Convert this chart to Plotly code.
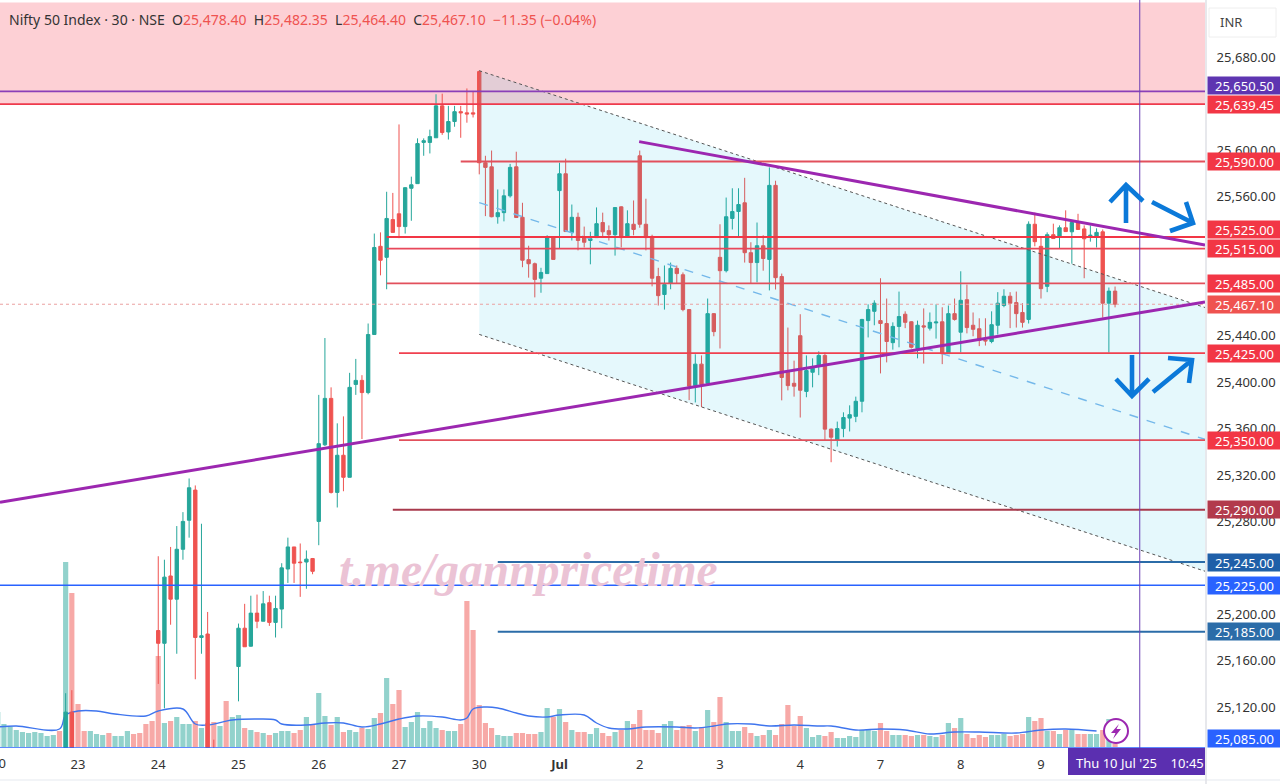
import plotly.graph_objects as go

# ---------- price candles (bar 0 = 23 Jun 09:15, 13 bars per session) ----------
bar_index = [-2, -1] + list(range(13, 23)) + list(range(26, 169))
opens = [
    25060, 25115.7,
    25186, 25175, 25233, 25213, 25256, 25281, 25307, 25180, 25183, 25070,
    25155, 25188, 25172.5, 25201, 25194, 25210, 25193, 25204.5, 25239, 25258,
    25245, 25245, 25248, 25280, 25346, 25386, 25305, 25337, 25318, 25398,
    25401.5, 25391, 25441, 25517, 25507.5, 25540, 25545, 25534, 25567, 25571,
    25606.5, 25606.5, 25610.5, 25638, 25615.5, 25624.5, 25633, 25632, 25632, 25667.5,
    25589, 25585.5, 25542.5, 25546, 25560.5, 25585.5, 25542, 25505.5, 25502, 25489.5,
    25493.5, 25524.5, 25565, 25579.5, 25529, 25542, 25524.5, 25522, 25524.5, 25537.5,
    25530.5, 25527, 25551, 25525.5, 25536, 25595, 25536, 25525.5, 25491, 25475.5,
    25485, 25498, 25492.5, 25462.5, 25397, 25415.5, 25399, 25459, 25507.5, 25496,
    25541, 25547, 25554.5, 25511.5, 25503, 25517.5, 25505.7, 25569.5, 25491, 25408.5,
    25399, 25440, 25392, 25408.5, 25414.5, 25423, 25359.5, 25350, 25360, 25369,
    25370.5, 25383.5, 25453, 25461, 25453, 25450.5, 25434, 25448, 25458.5, 25452,
    25429, 25448.5, 25446.5, 25451, 25452, 25424.5, 25459, 25443, 25471, 25449,
    25446, 25436, 25435, 25449, 25466, 25474, 25468.5, 25460, 25454, 25536,
    25517, 25482.5, 25527, 25525.5, 25533, 25529.5, 25537, 25532, 25526, 25525.5,
    25529.5, 25468, 25478.4,
]
highs = [
    25132, 25134.6,
    25250, 25247, 25258, 25276, 25288, 25317, 25311, 25278, 25202, 25092,
    25192, 25209, 25216, 25217, 25220, 25216, 25216, 25244, 25266, 25258,
    25261, 25255, 25248.5, 25389, 25438, 25395.5, 25364.5, 25370.5, 25408, 25420,
    25406, 25450.5, 25528, 25529, 25564, 25563, 25622, 25568, 25577, 25610,
    25610, 25617.5, 25648, 25648.5, 25638, 25638, 25638, 25653, 25650, 25668.5,
    25595, 25599.5, 25566, 25566, 25588, 25598.5, 25554.5, 25517.5, 25503, 25498.5,
    25526.5, 25525, 25589, 25592.5, 25553, 25546, 25534, 25529.5, 25550.5, 25546,
    25535, 25550.5, 25551.5, 25548, 25556.5, 25599.5, 25558, 25527, 25498.5, 25500.5,
    25503, 25500.5, 25494.5, 25463, 25424, 25423, 25472, 25459.5, 25536, 25559,
    25567, 25567, 25576, 25520.5, 25537.5, 25526.5, 25585, 25573.5, 25493.5, 25447,
    25418.5, 25458.5, 25423, 25420.5, 25426.5, 25425.5, 25360, 25366, 25374, 25380,
    25387.5, 25454.5, 25467, 25470.5, 25489.5, 25472, 25451.5, 25478, 25461, 25452.5,
    25453, 25463.5, 25460, 25467, 25464.5, 25466, 25472, 25495.5, 25484, 25460,
    25455, 25455, 25461, 25477.5, 25480, 25477.5, 25478, 25468, 25538.5, 25546,
    25525.5, 25529, 25536.5, 25535, 25548, 25539, 25545, 25535, 25535, 25532.5,
    25531.5, 25481.5, 25482.35,
]
lows = [
    25060, 25055,
    25140, 25119, 25191, 25166, 25247, 25266, 25144, 25166, 25060, 25050,
    25125, 25172, 25172, 25188, 25194, 25190, 25180, 25188, 25227, 25227,
    25215, 25222, 25234.5, 25259.5, 25345, 25304, 25292, 25306, 25318, 25389,
    25351, 25389.5, 25441, 25492, 25480, 25529, 25524, 25528, 25539, 25571,
    25595, 25597, 25610.5, 25613, 25609, 25620, 25610.5, 25623.5, 25628, 25579,
    25543, 25542, 25536.5, 25538.5, 25559, 25541.5, 25499, 25490, 25473, 25477,
    25493.5, 25505.5, 25515, 25529.5, 25522, 25513.5, 25516, 25501.5, 25524.5, 25524.5,
    25522, 25509, 25516, 25525.5, 25526.5, 25533, 25513.5, 25482.5, 25466, 25462.5,
    25480, 25485, 25461, 25384.5, 25382.5, 25378.5, 25399, 25439.5, 25429, 25494.5,
    25531.5, 25525.5, 25503, 25485, 25486, 25496, 25479, 25479.8, 25384.3, 25392.9,
    25387.5, 25369.5, 25387, 25395.5, 25406, 25350, 25331, 25344.5, 25352.5, 25357.5,
    25365.5, 25374, 25438.5, 25449, 25407.5, 25417, 25428, 25430, 25446.5, 25429,
    25420.5, 25416, 25444.5, 25437.5, 25415.5, 25424.5, 25453, 25425.5, 25442, 25439.5,
    25431, 25431.5, 25433.5, 25441, 25464.5, 25446.5, 25447, 25447, 25450.5, 25517,
    25472, 25477.5, 25523.5, 25515, 25529.5, 25502, 25531.3, 25489.5, 25521, 25516,
    25455.5, 25425.5, 25464.4,
]
closes = [
    25115.7, 25060,
    25175, 25232, 25213, 25256, 25280, 25309, 25180, 25181.5, 25070, 25060,
    25188, 25172, 25201, 25194, 25209, 25193, 25205, 25240, 25258, 25244,
    25244.5, 25247.5, 25237, 25347, 25386, 25305, 25337, 25318, 25395.5, 25401.5,
    25391, 25441, 25516, 25505, 25541, 25529, 25534, 25567.5, 25570, 25605.5,
    25608, 25611.5, 25638, 25615, 25624.5, 25633, 25632, 25631, 25631, 25589,
    25585, 25542.5, 25546, 25560.5, 25585, 25541.8, 25505, 25502, 25488.5, 25494.5,
    25524.5, 25505.7, 25579.5, 25529.7, 25542, 25522, 25520.5, 25523.5, 25536.5, 25529.5,
    25527, 25550.4, 25524.5, 25536.5, 25531.5, 25536, 25524.5, 25489.5, 25474.5, 25484,
    25498, 25493.5, 25462.5, 25396.5, 25415.5, 25398, 25459, 25443.5, 25496, 25542.5,
    25547, 25553, 25511.5, 25503, 25517.5, 25506.5, 25569.5, 25490, 25404, 25397,
    25396.5, 25393, 25410, 25412, 25423, 25359.5, 25352.5, 25360, 25369.5, 25372,
    25383.5, 25454, 25462.5, 25468, 25450.5, 25435, 25448, 25456.5, 25451.5, 25430,
    25449, 25447.5, 25451.5, 25451.8, 25424.5, 25459, 25454, 25470.5, 25447, 25445.5,
    25436, 25435.5, 25449.5, 25468, 25474, 25468, 25459, 25451.5, 25536, 25521,
    25480.5, 25527, 25523.7, 25533, 25529.7, 25537.5, 25531.5, 25523.5, 25526.5, 25529,
    25468, 25478.4, 25467.1,
]
assert len(bar_index) == len(opens) == len(highs) == len(lows) == len(closes)

# ---------- volume pane (bars -13 .. 168) ----------
volume = [
    35, 23, 20, 17, 15, 14, 15, 14, 11, 12, 16, 185, 154,
    43, 16, 16, 13, 12, 14, 11, 11, 16, 13, 14, 23, 26,
    91, 24, 26, 30, 23, 23, 26, 19, 24, 25, 21, 46, 30,
    32, 19, 17, 15, 14, 12, 14, 16, 16, 14, 17, 30, 22,
    54, 31, 22, 30, 15, 17, 15, 19, 18, 29, 34, 69, 43,
    57, 20, 25, 35, 19, 26, 19, 17, 16, 16, 23, 146, 117,
    42, 24, 19, 12, 11, 11, 14, 14, 13, 13, 15, 39, 30,
    38, 25, 17, 15, 15, 13, 19, 14, 11, 15, 17, 26, 23,
    37, 17, 17, 14, 23, 26, 17, 21, 22, 16, 20, 37, 25,
    50, 25, 16, 16, 20, 14, 11, 12, 17, 12, 23, 42, 21,
    31, 19, 10, 12, 11, 15, 9, 9, 11, 10, 17, 18, 16,
    24, 16, 12, 12, 12, 11, 12, 12, 11, 10, 12, 24, 19,
    29, 13, 9, 12, 10, 12, 12, 13, 11, 12, 13, 30, 26,
    29, 16, 16, 13, 17, 17, 13, 13, 13, 13, 17, 28, 3,
]
volume_dir = (
    "ggggggggggrgr"
    "rrgggrgggrrrr"
    "rgrgggrgrrgrg"
    "grgrgrgggrrgr"
    "ggrgrggrggrgr"
    "rggggggrggrrr"
    "rrrgggrrrrggr"
    "grgrrggrrgrgr"
    "rrrrggrrrgrgr"
    "rgggrrgrgrrrr"
    "rgggrrggggggg"
    "rrggrrgrggrgr"
    "grrrrgggrrrgr"
    "rgrgrgrrggrgr"
)
volume_index = list(range(-13, 169))
assert len(volume) == len(volume_dir) == len(volume_index)

ma_index = [-13, -10, -3, -2, 0, 3, 6, 11, 13, 17, 19, 21, 25, 29, 32, 33, 37, 40, 43, 46, 49,
            52, 55, 59, 62, 63, 64, 66, 68, 71, 73, 76, 78, 82, 84, 86, 89, 92, 97, 100, 103,
            105, 109, 112, 116, 120, 122, 126, 130, 134, 138, 142, 146, 152, 156, 160, 165]
ma_values = [20, 21, 18, 32, 36, 36, 33, 31, 36, 38, 23, 22, 27, 28, 27, 23, 22, 24, 24, 20, 23,
             28, 31, 30, 27, 29, 38, 40, 39, 34, 31, 30, 32, 32, 24, 19, 18, 20, 20, 19, 21,
             23, 23, 21, 22, 21, 21, 17, 18, 17, 13, 15, 15, 14, 17, 18, 16]

# ---------- drawings ----------
level_prices = [25650.5, 25639.45, 25590, 25525, 25515, 25485, 25425, 25350, 25290, 25245, 25225, 25185, 25085]
level_starts = [-13, -13, 62, 50, 50, 50, 52, 52, 51, 68, -13, 68, -13]
level_colors = ["#8a3fb8", "#ee3a4c", "#e2505c", "#f23645", "#e8475a", "#e2505c", "#f0404f", "#e2505c",
                "#a83a4c", "#2b6ca8", "#2962ff", "#2b6ca8", "#2962ff"]
level_widths = [1.6, 1.8, 2, 2, 1.8, 1.8, 1.8, 1.8, 2, 2, 1.6, 2, 1.2]

label_prices = [25650.5, 25639.45, 25590, 25525, 25515, 25485, 25467.1, 25425, 25350, 25290, 25245, 25225, 25185, 25085]
label_colors = ["#5e35b1", "#f23645", "#f23645", "#f23645", "#f23645", "#f23645", "#ef5350", "#f23645", "#f23645",
                "#b23a4c", "#1f5fa8", "#2962ff", "#2b6ca8", "#2962ff"]
label_shift = [6, 0, 0, 8, 0, 0, 0, 0, 0, 0, 0, 0, 0, 9]
price_ticks = [25120, 25160, 25200, 25280, 25320, 25360, 25400, 25440, 25560, 25600, 25680]

day_ticks = [0, 13, 26, 39, 52, 65, 78, 91, 104, 117, 130, 143, 156]
day_labels = ["23", "24", "25", "26", "27", "30", "<b>Jul</b>", "2", "3", "4", "7", "8", "9"]

W, H, PLOT_W, PLOT_H = 1280, 784, 1205, 748
BAR0, BAR_STEP = 78.0, 6.173
PRICE_TOP, PRICE_BOTTOM = 25729.2, 25084.8
x_left, x_right = -BAR0 / BAR_STEP, (PLOT_W - BAR0) / BAR_STEP


def px(x):
    return x / PLOT_W


def py(y):
    return 1 - y / PLOT_H


FONT = "Noto Sans"
fig = go.Figure()

vol_colors = ["#92d2cc" if d == "g" else "#f7a9a7" for d in volume_dir]
fig.add_bar(x=volume_index, y=volume, marker=dict(color=vol_colors, line_width=0), yaxis="y", showlegend=False)
fig.add_scatter(x=ma_index, y=ma_values, mode="lines", line=dict(color="#3f75ee", width=1.4, shape="spline", smoothing=1),
                yaxis="y", showlegend=False)
fig.add_candlestick(
    x=bar_index, open=opens, high=highs, low=lows, close=closes, yaxis="y2", showlegend=False,
    increasing=dict(line=dict(color="#26a69a", width=1), fillcolor="#26a69a"),
    decreasing=dict(line=dict(color="#ef5350", width=1), fillcolor="#ef5350"),
    whiskerwidth=0,
)

shapes = []
# resistance zone
shapes.append(dict(type="rect", xref="paper", yref="y2", x0=0, x1=1, y0=25639.45, y1=25727,
                   fillcolor="#fdd0d5", line_width=0, layer="below"))
# parallel channel
ch_x0, ch_x1 = 65, x_right
ch_top = (25668.3, 25464.3)
ch_mid = (25554.7, 25350.7)
ch_low = (25441.1, 25237.1)
shapes.append(dict(type="path", xref="x", yref="y2",
                   path=f"M {ch_x0} {ch_top[0]} L {ch_x1} {ch_top[1]} L {ch_x1} {ch_low[1]} L {ch_x0} {ch_low[0]} Z",
                   fillcolor="rgba(0,190,225,0.1)", line_width=0, layer="above"))
for pair, col, dash, wid in [(ch_top, "#555555", "dot", 1), (ch_low, "#555555", "dot", 1), (ch_mid, "#74b8ea", "dash", 1.4)]:
    shapes.append(dict(type="line", xref="x", yref="y2", x0=ch_x0, x1=ch_x1, y0=pair[0], y1=pair[1],
                       line=dict(color=col, width=wid, dash=dash)))
# last-price dotted line
shapes.append(dict(type="line", xref="paper", yref="y2", x0=0, x1=1, y0=25467.1, y1=25467.1,
                   line=dict(color="#eba0a0", width=1, dash="dot")))
# horizontal levels
for p, s, c, w in zip(level_prices, level_starts, level_colors, level_widths):
    shapes.append(dict(type="line", xref="x", yref="y2", x0=s, x1=x_right, y0=p, y1=p, line=dict(color=c, width=w)))
# trend lines
shapes.append(dict(type="line", xref="x", yref="y2", x0=x_left, x1=x_right, y0=25296.5, y1=25469.1,
                   line=dict(color="#9c27b0", width=3)))
shapes.append(dict(type="line", xref="x", yref="y2", x0=90.9, x1=x_right, y0=25607.2, y1=25518.1,
                   line=dict(color="#9c27b0", width=3)))
# crosshair
shapes.append(dict(type="line", xref="x", yref="paper", x0=172, x1=172, y0=0, y1=1, line=dict(color="#6a3fb5", width=1)))


def pixel_path(points_groups):
    parts = []
    for group in points_groups:
        parts.append("M " + " L ".join(f"{px(a):.5f} {py(b):.5f}" for a, b in group))
    return " ".join(parts)


# hand-drawn arrows
arrow_groups = [
    [[(1126, 223), (1126, 185)], [(1110, 202), (1126, 185), (1143, 201)]],
    [[(1152, 202), (1193, 223)], [(1186, 202), (1193, 223), (1170, 231)]],
    [[(1132, 355), (1132, 396)], [(1116, 379), (1132, 396), (1149, 379)]],
    [[(1153, 392), (1192, 360)], [(1168, 358), (1192, 360), (1189, 383)]],
]
for g in arrow_groups:
    shapes.append(dict(type="path", xref="paper", yref="paper", path=pixel_path(g),
                       line=dict(color="#0b79d9", width=4.6)))
# lightning badge
shapes.append(dict(type="circle", xref="paper", yref="paper", x0=px(1104), x1=px(1128), y0=py(743), y1=py(719),
                   fillcolor="white", line=dict(color="#9c27b0", width=2)))
shapes.append(dict(type="path", xref="paper", yref="paper",
                   path=pixel_path([[(1119, 724), (1111, 733), (1115.5, 733), (1113, 739), (1121, 729), (1116.5, 729), (1119, 724)]]) + " Z",
                   fillcolor="#9c27b0", line_width=0))
# bottom / right furniture
shapes.append(dict(type="rect", xref="paper", yref="paper", x0=px(1068), x1=px(1205), y0=py(775), y1=py(748),
                   fillcolor="#5b2fb0", line_width=0))
shapes.append(dict(type="rect", xref="paper", yref="paper", x0=px(1209), x1=px(1276), y0=py(37), y1=py(8),
                   fillcolor="white", line=dict(color="#eeeeee", width=1)))
shapes.append(dict(type="line", xref="paper", yref="paper", x0=0, x1=px(1280), y0=py(780), y1=py(780),
                   line=dict(color="#eef0f4", width=1.5)))
shapes.append(dict(type="line", xref="paper", yref="paper", x0=px(1206), x1=px(1206), y0=py(784), y1=py(0),
                   line=dict(color="#dfe1e6", width=1.5)))

annotations = []
R = "#ef5350"
header = (
    f'Nifty 50 Index · 30 · NSE&nbsp;&nbsp;O<span style="color:{R}">25,478.40</span>&nbsp;&nbsp;H<span style="color:{R}">25,482.35</span>&nbsp;&nbsp;'
    f'L<span style="color:{R}">25,464.40</span>&nbsp;&nbsp;C<span style="color:{R}">25,467.10</span>&nbsp;&nbsp;'
    f'<span style="color:{R}">−11.35 (−0.04%)</span>'
)
annotations.append(dict(xref="paper", yref="paper", x=px(7), y=py(20), xanchor="left", yanchor="middle", showarrow=False,
                        text=header, font=dict(family=FONT, size=14, color="#333333")))
annotations.append(dict(xref="paper", yref="paper", x=px(-2), y=py(763), xanchor="center", yanchor="middle", showarrow=False,
                        text="20", font=dict(family=FONT, size=13, color="#333333")))
annotations.append(dict(xref="paper", yref="paper", x=px(1231), y=py(22), xanchor="center", yanchor="middle", showarrow=False,
                        text="INR", font=dict(family=FONT, size=13, color="#444444")))
annotations.append(dict(xref="paper", yref="paper", x=px(1140), y=py(763), xanchor="center", yanchor="middle", showarrow=False,
                        text="Thu 10 Jul '25&nbsp;&nbsp;&nbsp;&nbsp;10:45", font=dict(family=FONT, size=13, color="white")))
annotations.append(dict(xref="paper", yref="paper", x=px(528), y=py(570), xanchor="center", yanchor="middle", showarrow=False,
                        text="<b><i>t.me/gannpricetime</i></b>", font=dict(family="Liberation Serif", size=47.5, color="#ebc3d5")))
for p, c, s in zip(label_prices, label_colors, label_shift):
    annotations.append(dict(xref="paper", yref="y2", x=px(1207), y=p, xanchor="left", yanchor="middle", yshift=s,
                            showarrow=False, text=f"{p:,.2f}", bgcolor=c, width=71, height=15, borderpad=1,
                            font=dict(family=FONT, size=13, color="white")))

fig.update_layout(
    width=W, height=H, margin=dict(l=0, r=W - PLOT_W, t=0, b=H - PLOT_H),
    paper_bgcolor="white", plot_bgcolor="white", showlegend=False,
    bargap=0.16, boxgap=0.22, hovermode=False,
    xaxis=dict(range=[x_left, x_right], tickmode="array", tickvals=day_ticks, ticktext=day_labels, showgrid=False,
               zeroline=False, rangeslider=dict(visible=False), ticks="outside", ticklen=4, tickcolor="white",
               tickfont=dict(family=FONT, size=13, color="#333333"), showline=False),
    yaxis=dict(range=[-1, PLOT_H - 1], visible=False, fixedrange=True),
    yaxis2=dict(range=[PRICE_BOTTOM, PRICE_TOP], overlaying="y", side="right", anchor="x", showgrid=False, zeroline=False,
                tickmode="array", tickvals=price_ticks, tickformat=",.2f", ticks="outside", ticklen=8, tickcolor="white",
                tickfont=dict(family=FONT, size=13, color="#333333"), showline=False),
    shapes=shapes, annotations=annotations,
)
fig.write_html("out.html", config={"displayModeBar": False}, post_script="document.body.style.margin='0';")
